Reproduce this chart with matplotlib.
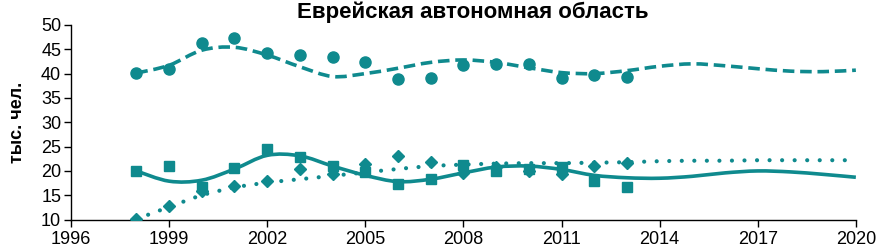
import matplotlib
matplotlib.use("Agg")
import matplotlib.pyplot as plt
import numpy as np
from matplotlib.path import Path
from matplotlib.patches import PathPatch

plt.rcParams['font.family'] = ['Liberation Sans', 'DejaVu Sans']

# observed values, thousand people
years = [1998, 1999, 2000, 2001, 2002, 2003, 2004, 2005, 2006, 2007, 2008, 2009, 2010, 2011, 2012, 2013]
circles = [40.1, 40.9, 46.2, 47.3, 44.3, 43.8, 43.4, 42.4, 38.8, 39.1, 41.7, 41.9, 41.9, 39.0, 39.8, 39.2]
squares = [20.0, 21.0, 16.6, 20.7, 24.6, 22.9, 21.0, 19.8, 17.3, 18.3, 21.3, 19.9, 20.4, 20.8, 17.9, 16.6]
diamonds = [10.2, 12.7, 15.8, 16.9, 18.0, 20.4, 19.3, 21.5, 23.0, 21.9, 19.5, 20.8, 20.0, 19.4, 21.0, 21.6]

# trend / forecast lines
trend_years = list(range(1998, 2021))
trend_circles = [40.1, 41.7, 44.8, 45.4, 43.8, 41.4, 39.4, 40.0, 41.1, 42.3, 42.8, 42.3, 41.2,
                 40.2, 40.0, 40.6, 41.5, 42.0, 41.6, 41.0, 40.5, 40.4, 40.7]
trend_squares = [20.0, 17.9, 18.1, 20.4, 23.2, 23.1, 21.0, 19.1, 17.8, 18.3, 19.6, 20.8, 21.0,
                 20.3, 19.1, 18.6, 18.5, 18.9, 19.6, 20.0, 19.8, 19.3, 18.7]
trend_diamonds = [10.1, 12.6, 15.0, 16.6, 17.6, 18.3, 19.0, 19.7, 20.4, 21.0, 21.3, 21.5, 21.6,
                  21.6, 21.7, 21.8, 22.0, 22.1, 22.1, 22.2, 22.2, 22.2, 22.2]

teal = '#0f8a8e'


def smooth_path(xs, ys):
    # Excel-like smoothed line: Catmull-Rom segments as cubic Beziers
    pts = np.column_stack([xs, ys]).astype(float)
    verts = [pts[0]]
    codes = [Path.MOVETO]
    n = len(pts)
    for i in range(n - 1):
        p0 = pts[max(i - 1, 0)]
        p1 = pts[i]
        p2 = pts[i + 1]
        p3 = pts[min(i + 2, n - 1)]
        c1 = p1 + (p2 - p0) / 6.0
        c2 = p2 - (p3 - p1) / 6.0
        verts += [c1, c2, p2]
        codes += [Path.CURVE4] * 3
    return Path(verts, codes)


fig = plt.figure(figsize=(8.76, 2.49), dpi=100)
ax = fig.add_axes([0.081, 0.118, 0.896, 0.782])

ax.add_patch(PathPatch(smooth_path(trend_years, trend_circles), fill=False, edgecolor=teal,
                       lw=2.6, linestyle=(0, (3.2, 1.6))))
ax.add_patch(PathPatch(smooth_path(trend_years, trend_squares), fill=False, edgecolor=teal,
                       lw=2.6))
ax.add_patch(PathPatch(smooth_path(trend_years, trend_diamonds), fill=False, edgecolor=teal,
                       lw=3.0, linestyle=(0, (0.01, 3.0)), capstyle='round'))

ax.plot(years, circles, 'o', color=teal, ms=8, mec=teal)
ax.plot(years, squares, 's', color=teal, ms=7.5, mec=teal)
ax.plot(years, diamonds, 'D', color=teal, ms=6.5, mec=teal)

ax.set_xlim(1996, 2020)
ax.set_ylim(10, 50)
ax.set_xticks(range(1996, 2021, 3))
ax.set_yticks(range(10, 51, 5))
ax.tick_params(labelsize=13, direction='out', length=5, width=1, color='black')
ax.tick_params(axis='x', pad=3)
ax.tick_params(axis='y', pad=2)
for s in ['top', 'right']:
    ax.spines[s].set_visible(False)
for s in ['left', 'bottom']:
    ax.spines[s].set_linewidth(1)
    ax.spines[s].set_color('black')
ax.spines['bottom'].set_zorder(0)

ax.set_ylabel('тыс. чел.', fontsize=13, fontweight='bold', labelpad=11)
fig.text(0.54, 0.95, 'Еврейская автономная область', ha='center', va='center',
         fontsize=16, fontweight='bold')

fig.savefig('out.png', dpi=100)
